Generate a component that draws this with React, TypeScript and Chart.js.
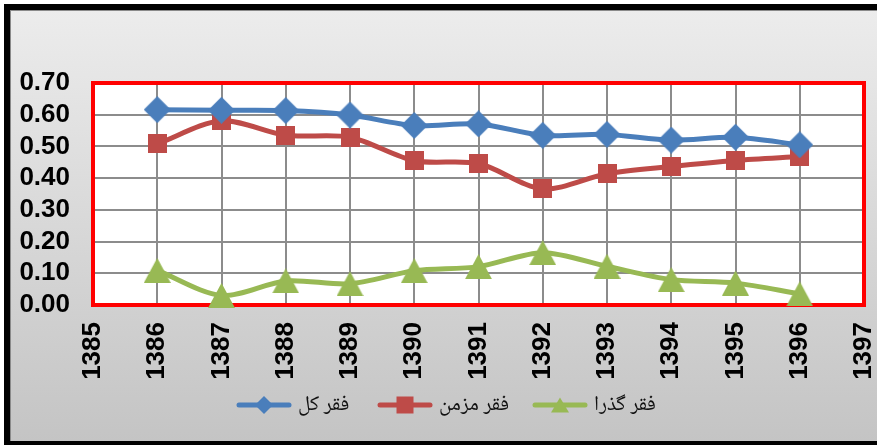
import React, { useEffect, useRef } from "react";
import { Chart, registerables } from "chart.js";

Chart.register(...registerables);

// ---- data ----
const years = [1386, 1387, 1388, 1389, 1390, 1391, 1392, 1393, 1394, 1395, 1396];
const totalPoverty = [0.616, 0.614, 0.613, 0.599, 0.566, 0.571, 0.535, 0.538, 0.52, 0.529, 0.505];
const chronicPoverty = [0.508, 0.581, 0.535, 0.529, 0.455, 0.446, 0.366, 0.414, 0.437, 0.456, 0.468];
const transientPoverty = [0.109, 0.03, 0.076, 0.067, 0.108, 0.121, 0.165, 0.122, 0.08, 0.069, 0.035];
const seriesNames = ["فقر کل", "فقر مزمن", "فقر گذرا"];
const xAxisRange = [1385, 1397];
const yAxisRange = [0, 0.7];
const yStep = 0.1;

// ---- styles ----
const W = 877;
const H = 445;
const colors = ["#4A7EBB", "#BE4B48", "#98B954"];
const shapes = ["diamond", "square", "triangle"];
const plotMarkerSize: [number, number][] = [
  [27, 27],
  [19, 19],
  [27, 25],
];
const legendMarkerSize: [number, number][] = [
  [18, 18],
  [17, 17],
  [18, 15],
];
const legendItemX = [236, 377, 532];
const tickFont = { family: '"Liberation Sans", Arial, sans-serif', size: 26, weight: "bold" as const, lineHeight: 1 };
const legendFontFamily = '"Noto Naskh Arabic", "Noto Sans Arabic", "DejaVu Sans", sans-serif';

function drawShape(g: CanvasRenderingContext2D, shape: string, cx: number, cy: number, w: number, h: number) {
  g.beginPath();
  if (shape === "diamond") {
    g.moveTo(cx, cy - h / 2);
    g.lineTo(cx + w / 2, cy);
    g.lineTo(cx, cy + h / 2);
    g.lineTo(cx - w / 2, cy);
  } else if (shape === "square") {
    g.rect(cx - w / 2, cy - h / 2, w, h);
  } else {
    g.moveTo(cx, cy - h / 2);
    g.lineTo(cx + w / 2, cy + h / 2);
    g.lineTo(cx - w / 2, cy + h / 2);
  }
  g.closePath();
  g.fill();
}

function markerCanvas(shape: string, color: string, w: number, h: number) {
  const c = document.createElement("canvas");
  c.width = w;
  c.height = h;
  const g = c.getContext("2d")!;
  g.fillStyle = color;
  drawShape(g, shape, w / 2, h / 2, w, h);
  return c;
}

const framePlugin = {
  id: "frame",
  beforeDraw(chart: any) {
    const ctx = chart.ctx as CanvasRenderingContext2D;
    const a = chart.chartArea;
    ctx.save();
    ctx.fillStyle = "#ffffff";
    ctx.fillRect(0, 0, W, H);
    const grad = ctx.createLinearGradient(0, 10, 0, 442);
    grad.addColorStop(0, "#ececec");
    grad.addColorStop(1, "#c4c4c4");
    ctx.fillStyle = grad;
    ctx.fillRect(4, 4, W, 441);
    ctx.fillStyle = "#000000";
    ctx.fillRect(4, 4, W, 6);
    ctx.fillRect(4, 4, 6, 441);
    ctx.fillRect(4, 441, W, 6);
    ctx.fillStyle = "#8a8a8a";
    ctx.fillRect(10, 10, W, 1);
    ctx.fillRect(10, 10, 1, 431);
    ctx.fillStyle = "#ffffff";
    ctx.fillRect(a.left, a.top, a.right - a.left, a.bottom - a.top);
    ctx.restore();
  },
  beforeDatasetsDraw(chart: any) {
    const ctx = chart.ctx as CanvasRenderingContext2D;
    const a = chart.chartArea;
    ctx.save();
    ctx.strokeStyle = "#ff0000";
    ctx.lineWidth = 4;
    ctx.strokeRect(a.left, a.top, a.right - a.left, a.bottom - a.top);
    ctx.restore();
  },
  afterDraw(chart: any) {
    const ctx = chart.ctx as CanvasRenderingContext2D;
    ctx.save();
    ctx.font = `21px ${legendFontFamily}`;
    const lineLen = 56;
    const gapText = 6;
    const y = 405;
    seriesNames.forEach((name, i) => {
      const x = legendItemX[i];
      ctx.strokeStyle = colors[i];
      ctx.lineWidth = 5;
      ctx.lineCap = "round";
      ctx.beginPath();
      ctx.moveTo(x + 3, y);
      ctx.lineTo(x + lineLen - 3, y);
      ctx.stroke();
      ctx.fillStyle = colors[i];
      const [mw, mh] = legendMarkerSize[i];
      drawShape(ctx, shapes[i], x + lineLen / 2, y, mw, mh);
      ctx.fillStyle = "#111111";
      ctx.textAlign = "left";
      ctx.textBaseline = "middle";
      ctx.fillText(name, x + lineLen + gapText, y + 2);
    });
    ctx.restore();
  },
};

export default function App() {
  const ref = useRef<HTMLCanvasElement | null>(null);

  useEffect(() => {
    if (!ref.current) return;
    const seriesValues = [totalPoverty, chronicPoverty, transientPoverty];
    const chart = new Chart(ref.current, {
      type: "line",
      data: {
        datasets: seriesValues.map((vals, i) => ({
          label: seriesNames[i],
          data: years.map((yr, j) => ({ x: yr, y: vals[j] })),
          borderColor: colors[i],
          backgroundColor: colors[i],
          borderWidth: 5,
          tension: 0.3,
          pointStyle: markerCanvas(shapes[i], colors[i], plotMarkerSize[i][0], plotMarkerSize[i][1]) as any,
          pointRadius: 13,
          clip: false as any,
        })),
      },
      options: {
        responsive: false,
        animation: false,
        events: [],
        layout: { autoPadding: false, padding: { top: 83, right: 13, bottom: 50, left: 0 } },
        plugins: { legend: { display: false }, tooltip: { enabled: false } },
        scales: {
          x: {
            type: "linear",
            min: xAxisRange[0],
            max: xAxisRange[1],
            border: { display: false },
            grid: { color: "#8c8c8c", lineWidth: 2, drawTicks: false },
            ticks: {
              stepSize: 1,
              autoSkip: false,
              minRotation: 90,
              maxRotation: 90,
              padding: 17,
              color: "#000000",
              font: tickFont,
              callback: (v: any) => String(v),
            },
            afterFit: (s: any) => {
              s.height = 90;
              s.paddingLeft = 0;
              s.paddingRight = 0;
            },
          },
          y: {
            min: yAxisRange[0],
            max: yAxisRange[1],
            border: { display: false },
            grid: { color: "#8c8c8c", lineWidth: 2, drawTicks: false },
            ticks: {
              stepSize: yStep,
              autoSkip: false,
              padding: 23,
              color: "#000000",
              font: tickFont,
              callback: (v: any) => Number(v).toFixed(2),
            },
            afterFit: (s: any) => {
              s.width = 93;
              s.paddingTop = 0;
              s.paddingBottom = 0;
            },
          },
        },
      },
      plugins: [framePlugin],
    });
    return () => chart.destroy();
  }, []);

  return (
    <div style={{ position: "fixed", left: 0, top: 0, width: W, height: H, overflow: "hidden" }}>
      <canvas ref={ref} width={W} height={H} style={{ display: "block", width: W, height: H }} />
    </div>
  );
}
